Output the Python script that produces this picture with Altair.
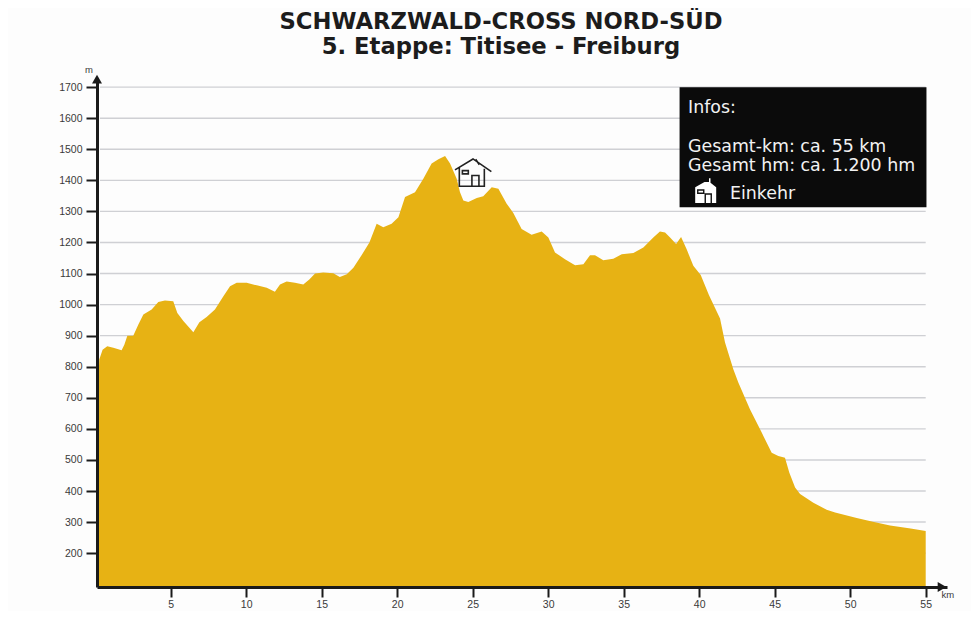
import altair as alt
import pandas as pd

TITLE_LINES = ["SCHWARZWALD-CROSS NORD-SÜD", "5. Etappe: Titisee - Freiburg"]

KM = [0.12, 0.27, 0.49, 0.8, 1.2, 1.75, 1.93, 2.13, 2.52, 2.86, 3.19, 3.74, 4.18, 4.62, 5.17, 5.44,
      5.84, 6.5, 6.9, 7.38, 7.93, 8.49, 8.93, 9.37, 10.03, 10.7, 11.36, 11.9, 12.24, 12.68, 13.23,
      13.78, 14.18, 14.56, 15.1, 15.77, 16.2, 16.66, 17.1, 17.65, 18.16, 18.64, 19.08, 19.63, 20.08,
      20.52, 21.18, 21.73, 22.28, 22.73, 23.17, 23.5, 23.94, 24.16, 24.38, 24.71, 25.27, 25.7, 26.26,
      26.7, 27.25, 27.69, 28.24, 28.9, 29.57, 30.01, 30.45, 31.11, 31.78, 32.33, 32.77, 33.1, 33.65,
      34.31, 34.87, 35.64, 36.3, 36.96, 37.4, 37.74, 38.07, 38.47, 38.8, 39.17, 39.61, 40.1, 40.65,
      41.38, 41.71, 42.26, 42.59, 43.36, 44.14, 44.8, 45.24, 45.68, 45.97, 46.35, 46.68, 47.56, 48.44,
      49.0, 50.43, 51.5, 52.64, 54.0, 55.0]
ELEVATION = [650, 823, 855, 866, 861, 853, 871, 900, 900, 936, 968, 984, 1008, 1013, 1011, 973,
             947, 911, 943, 960, 984, 1027, 1059, 1070, 1070, 1062, 1054, 1041, 1065, 1074, 1070,
             1065, 1081, 1100, 1103, 1101, 1089, 1098, 1119, 1160, 1200, 1260, 1249, 1260, 1281,
             1346, 1362, 1405, 1454, 1468, 1478, 1454, 1405, 1362, 1335, 1330, 1343, 1349, 1378,
             1373, 1325, 1295, 1243, 1225, 1235, 1216, 1168, 1146, 1127, 1130, 1159, 1159, 1143,
             1148, 1162, 1166, 1184, 1216, 1235, 1232, 1216, 1195, 1218, 1178, 1125, 1095, 1030,
             955, 878, 792, 749, 663, 588, 523, 513, 507, 459, 411, 390, 362, 340,
             331, 313, 301, 289, 279, 271]

Y_TICKS = list(range(200, 1800, 100))
X_TICKS = list(range(5, 60, 5))
GRID_KM = [0.32, 55.0]
X_DOMAIN = [0.12, 56.41]
Y_DOMAIN = [91, 1723]

BOX_KM = [38.7, 55.05]
BOX_M = [1313, 1700]
INFO_TEXTS = ["Infos:", "Gesamt-km: ca. 55 km", "Gesamt hm: ca. 1.200 hm"]
INFO_KM = [39.26, 39.26, 39.26]
INFO_M = [1617, 1491, 1430]
LEGEND_TEXT = "Einkehr"
LEGEND_KM = 42.04
LEGEND_M = 1340
HOUSE_KM = 25.02
HOUSE_M = 1426
LEGEND_HOUSE_KM = 40.45
LEGEND_HOUSE_M = 1368

HOUSE_OUTLINE = ("M-1,-0.13L0,-0.74L1.02,-0.04 M-0.76,-0.3L-0.76,0.78L0.63,0.78L0.63,-0.2 "
                 "M-0.06,0.78L-0.06,0.18L0.33,0.18L0.33,0.78 "
                 "M-0.59,-0.09L-0.26,-0.09L-0.26,0.09L-0.59,0.09Z M0.15,-0.72L0.35,-0.42")
HOUSE_SOLID = ("M-0.72,-0.2L-0.1,-0.55L0.2,-0.55L0.2,-0.8L0.3,-0.8L0.3,-0.5L0.68,-0.2L0.68,0.85L-0.72,0.85Z")
HOUSE_DETAIL = ("M-0.05,0.85L-0.05,0.25L0.35,0.25L0.35,0.85 "
                "M-0.55,-0.02L-0.15,-0.02L-0.15,0.2L-0.55,0.2Z")

FILL = "#E7B214"
GRID = "#cfd0d4"
INK = "#1a1a1a"
LABEL = "#3a3a3a"

x_scale = alt.Scale(domain=X_DOMAIN, nice=False, zero=False)
y_scale = alt.Scale(domain=Y_DOMAIN, nice=False, zero=False)
x_axis = alt.Axis(
    values=X_TICKS, grid=False, domainColor=INK, domainWidth=3, tickColor=INK, tickWidth=2,
    tickSize=10, labelColor=LABEL, labelFont="Liberation Sans", labelFontSize=10.5,
    labelPadding=2, zindex=1, labelFlush=False, format="d", title=None)
y_axis = alt.Axis(
    values=Y_TICKS, grid=False, domainColor=INK, domainWidth=3, tickColor=INK, tickWidth=2,
    tickSize=11, labelColor=LABEL, labelFont="Liberation Sans", labelFontSize=10.5,
    labelPadding=4, zindex=1, labelFlush=False, format="d", title=None)
X = lambda f="km": alt.X(f"{f}:Q", scale=x_scale, axis=x_axis)
Y = lambda f="m": alt.Y(f"{f}:Q", scale=y_scale, axis=y_axis)

grid = alt.Chart(pd.DataFrame({"m": Y_TICKS, "a": GRID_KM[0], "b": GRID_KM[1]})).mark_rule(
    color=GRID, strokeWidth=1.4
).encode(x=X("a"), x2="b:Q", y=Y())

area = alt.Chart(pd.DataFrame({"km": KM, "m": ELEVATION, "base": Y_DOMAIN[0]})).mark_area(
    color=FILL, interpolate="linear"
).encode(x=X(), y=Y(), y2="base:Q")

box = alt.Chart(pd.DataFrame({"a": [BOX_KM[0]], "b": [BOX_KM[1]], "c": [BOX_M[0]], "d": [BOX_M[1]]})).mark_rect(
    color="#0b0b0b"
).encode(x=X("a"), x2="b:Q", y=Y("c"), y2="d:Q")

info = alt.Chart(pd.DataFrame({"km": INFO_KM, "m": INFO_M, "t": INFO_TEXTS})).mark_text(
    align="left", baseline="alphabetic", font="DejaVu Sans", fontSize=17.4, color="#f2f2f2"
).encode(x=X(), y=Y(), text="t:N")

legend_text = alt.Chart(pd.DataFrame({"km": [LEGEND_KM], "m": [LEGEND_M], "t": [LEGEND_TEXT]})).mark_text(
    align="left", baseline="alphabetic", font="DejaVu Sans", fontSize=17.4, color="#f2f2f2"
).encode(x=X(), y=Y(), text="t:N")

house = alt.Chart(pd.DataFrame({"km": [HOUSE_KM], "m": [HOUSE_M]})).mark_point(
    shape=HOUSE_OUTLINE, size=1296, filled=False, color="#222222", strokeWidth=1.6, opacity=1
).encode(x=X(), y=Y())

legend_df = pd.DataFrame({"km": [LEGEND_HOUSE_KM], "m": [LEGEND_HOUSE_M]})
legend_solid = alt.Chart(legend_df).mark_point(
    shape=HOUSE_SOLID, size=900, filled=True, color="#ffffff", opacity=1
).encode(x=X(), y=Y())
legend_detail = alt.Chart(legend_df).mark_point(
    shape=HOUSE_DETAIL, size=900, filled=False, color="#111111", strokeWidth=1.4, opacity=1
).encode(x=X(), y=Y())

arrow_y = alt.Chart(pd.DataFrame({"km": [X_DOMAIN[0]], "m": [1726]})).mark_point(
    shape="triangle-up", size=100, filled=True, color=INK, opacity=1
).encode(x=X(), y=Y())
arrow_x = alt.Chart(pd.DataFrame({"km": [56.08], "m": [Y_DOMAIN[0]]})).mark_point(
    shape="triangle-right", size=100, filled=True, color=INK, opacity=1
).encode(x=X(), y=Y())

unit_m = alt.Chart(pd.DataFrame({"km": [-0.42], "m": [1755], "t": ["m"]})).mark_text(
    align="center", baseline="middle", font="Liberation Sans", fontSize=9.5, color=LABEL
).encode(x=X(), y=Y(), text="t:N")
unit_km = alt.Chart(pd.DataFrame({"km": [56.47], "m": [65], "t": ["km"]})).mark_text(
    align="center", baseline="middle", font="Liberation Sans", fontSize=9.5, color=LABEL
).encode(x=X(), y=Y(), text="t:N")

chart = alt.layer(
    grid, area, box, info, legend_text, house, legend_solid, legend_detail,
    arrow_y, arrow_x, unit_m, unit_km
).properties(
    width=850,
    height=507,
    autosize=alt.AutoSizeParams(type="none"),
    padding={"left": 89, "top": 72, "right": 24, "bottom": 24},
    background="#fdfdfd",
    title=alt.TitleParams(
        text=TITLE_LINES, font="DejaVu Sans", fontSize=22.7, fontWeight="bold", color="#1c1c1c",
        anchor="middle", dx=-21, lineHeight=25, offset=6,
    ),
).configure_view(stroke=None)

chart.save("out.html", embed_options={"renderer": "svg", "actions": False})
